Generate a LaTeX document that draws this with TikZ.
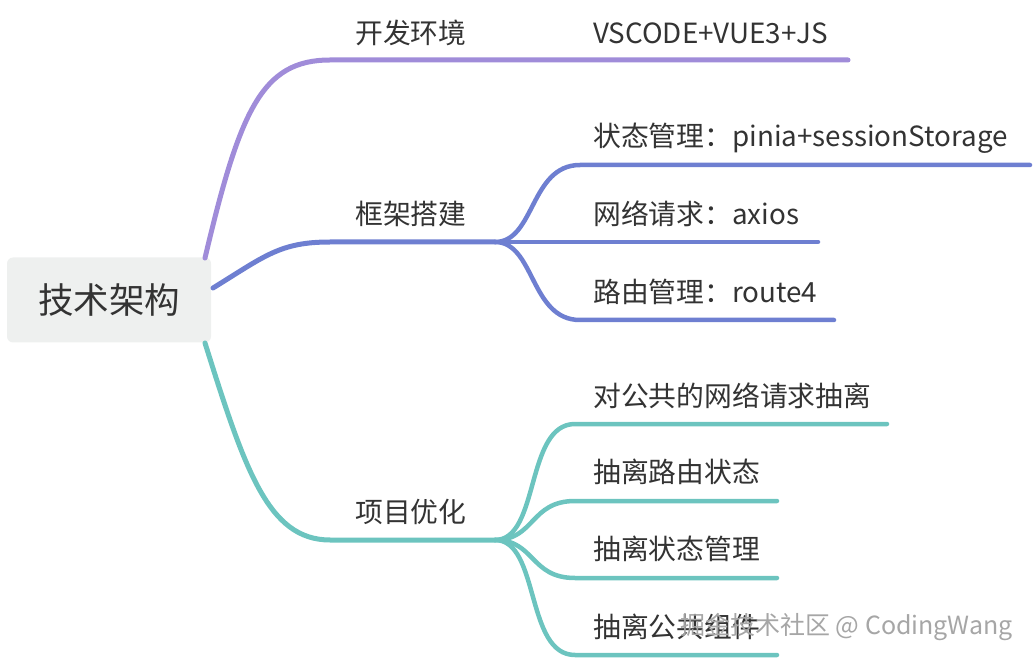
\documentclass[tikz,border=0pt]{standalone}
\usepackage{fontspec}
\newfontfamily\cjk{Noto Sans CJK SC}
\definecolor{cpurple}{HTML}{A08CD9}
\definecolor{cblue}{HTML}{6E7FD1}
\definecolor{cteal}{HTML}{6CC4BF}
\definecolor{ctext}{HTML}{333333}
\definecolor{crootfill}{HTML}{EEF0EF}
\begin{document}
\begin{tikzpicture}[x=1pt,y=-1pt,
  lbl/.style={anchor=west,inner sep=0pt,text=ctext,font=\cjk\fontsize{27.8}{32}\selectfont},
  br/.style={line width=5pt,line cap=round},
  sub/.style={line width=4.5pt,line cap=round}]
\useasboundingbox (0,0) rectangle (1034,660);
% root
\node[fill=crootfill,rounded corners=6pt,minimum width=204pt,minimum height=85pt,inner sep=0pt,text=ctext,font=\cjk\fontsize{35.5}{40}\selectfont] (root) at (109,300) {技术架构};
% anchors
\coordinate (p0) at (205,258);
\coordinate (b0) at (213,288);
\coordinate (t0) at (205,343);
\coordinate (pj) at (330,60);
\coordinate (bj) at (330,242);
\coordinate (tj) at (330,540);
\coordinate (bjn) at (495,242);
\coordinate (tjn) at (495,540);
% level-1 labels
\node[lbl] (dev) at (355,33) {开发环境};
\node[lbl] (devc) at (593,33) {VSCODE+VUE3+JS};
\node[lbl] (frm) at (355,214) {框架搭建};
\node[lbl] (opt) at (355,512) {项目优化};
% purple branch
\coordinate (pe) at (848,60);
\draw[br,cpurple] (p0) .. controls (240,110) and (262,60) .. (pj) -- (pe);
% blue branch
\draw[br,cblue] (b0) .. controls (265,256) and (280,242) .. (bj) -- (bjn);
\node[lbl] (b1) at (593,138) {状态管理：pinia+sessionStorage};
\node[lbl] (b2) at (593,214) {网络请求：axios};
\node[lbl] (b3) at (593,292) {路由管理：route4};
\coordinate (b1e) at (1030,165);
\coordinate (b2e) at (818,242);
\coordinate (b3e) at (834,320);
\draw[sub,cblue] (bjn) .. controls (535,242) and (530,165) .. (580,165) -- (b1e);
\draw[sub,cblue] (bjn) -- (b2e);
\draw[sub,cblue] (bjn) .. controls (535,242) and (530,320) .. (580,320) -- (b3e);
% teal branch
\draw[br,cteal] (t0) .. controls (245,470) and (268,540) .. (tj) -- (tjn);
\node[lbl] (t1) at (593,396) {对公共的网络请求抽离};
\node[lbl] (t2) at (593,472) {抽离路由状态};
\node[lbl] (t3) at (593,549) {抽离状态管理};
\node[lbl] (t4) at (593,627) {抽离公共组件};
\coordinate (t1e) at (887,424);
\coordinate (t2e) at (777,501);
\coordinate (t3e) at (777,578);
\coordinate (t4e) at (777,655);
\draw[sub,cteal] (tjn) .. controls (540,540) and (525,424) .. (575,424) -- (t1e);
\draw[sub,cteal] (tjn) .. controls (535,540) and (530,501) .. (575,501) -- (t2e);
\draw[sub,cteal] (tjn) .. controls (535,540) and (530,578) .. (575,578) -- (t3e);
\draw[sub,cteal] (tjn) .. controls (540,540) and (525,655) .. (575,655) -- (t4e);
% watermark
\node[anchor=west,inner sep=0pt,text=gray!70,font=\cjk\fontsize{25}{30}\selectfont] (wm) at (680,627) {掘金技术社区 @ CodingWang};
\end{tikzpicture}
\end{document}
